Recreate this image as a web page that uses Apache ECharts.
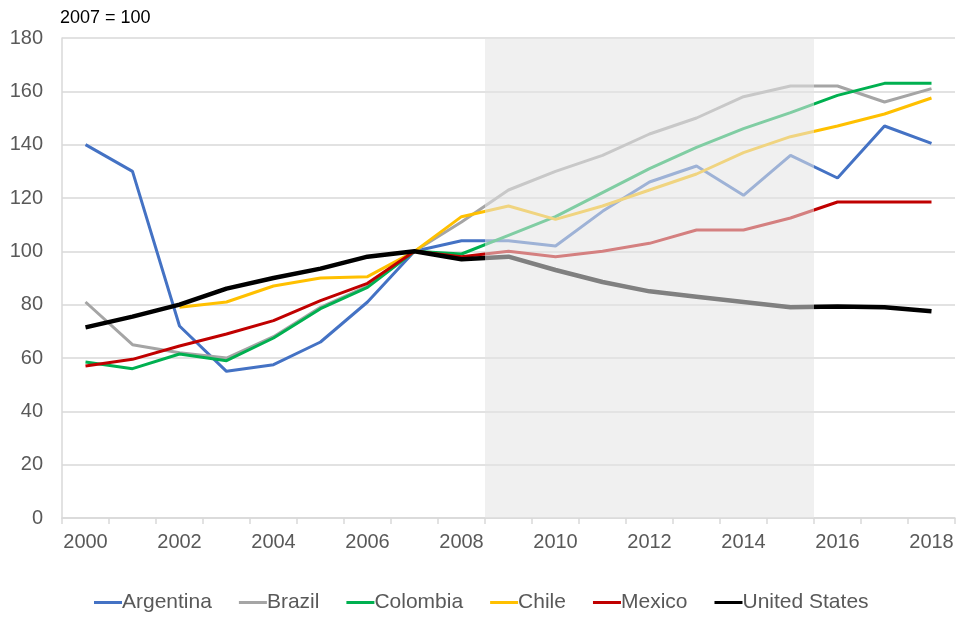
<!DOCTYPE html>
<html>
<head>
<meta charset="utf-8">
<script src="https://cdn.jsdelivr.net/npm/echarts@6/dist/echarts.min.js"></script>
<style>
  html, body { margin: 0; padding: 0; background: #fff; }
  #chart { width: 959px; height: 618px; }
</style>
</head>
<body>
<div id="chart"></div>
<script>
var years = ["2000", "2001", "2002", "2003", "2004", "2005", "2006", "2007", "2008", "2009",
  "2010", "2011", "2012", "2013", "2014", "2015", "2016", "2017", "2018"];

var argentina = [140, 130, 72, 55, 57.5, 66, 81, 100, 104, 104, 102, 115, 126, 132, 121, 136, 127.5, 147, 140.5];
var brazil = [81, 65, 62, 60, 68, 79, 87, 100, 111, 123, 130, 136, 144, 150, 158, 162, 162, 156, 161];
var colombia = [58.5, 56, 61.5, 59, 67.5, 78.5, 86.5, 100, 99, 106, 113, 122, 131, 139, 146, 152, 158.5, 163, 163];
var chile = [null, null, 79, 81, 87, 90, 90.5, 100, 113, 117, 112, 117, 123, 129, 137, 143, 147, 151.5, 157.5];
var mexico = [57, 59.5, 64.5, 69, 74, 81.5, 88, 100, 98, 100, 98, 100, 103, 108, 108, 112.5, 118.5, 118.5, 118.5];
var unitedStates = [71.5, 75.5, 80, 86, 90, 93.5, 98, 100, 97, 98, 93, 88.5, 85, 83, 81, 79, 79.3, 79, 77.5];

// shaded period 2009-2015 (drawn as full-height bars over the lines)
var shade = [null, null, null, null, null, null, null, null, null, 180, 180, 180, 180, 180, 180, 180, null, null, null];

var myChart = echarts.init(document.getElementById("chart"));

function line(name, data, color, width) {
  return {
    name: name,
    type: "line",
    data: data,
    symbol: "none",
    z: 2,
    lineStyle: { color: color, width: width },
    itemStyle: { color: color }
  };
}

var option = {
  animation: false,
  textStyle: { fontFamily: "Liberation Sans, Arial, sans-serif" },
  title: {
    text: "2007 = 100",
    left: 55,
    top: 4,
    textStyle: { fontSize: 18, fontWeight: "normal", color: "#000" }
  },
  grid: { left: 62, right: 4, top: 38, bottom: 100 },
  legend: {
    bottom: 0,
    left: 89,
    data: ["Argentina", "Brazil", "Colombia", "Chile", "Mexico", "United States"],
    icon: "rect",
    itemWidth: 28,
    itemHeight: 3,
    itemGap: 27,
    textStyle: { fontSize: 21, color: "#595959", padding: [0, 0, 0, -5] }
  },
  xAxis: {
    type: "category",
    data: years,
    boundaryGap: true,
    axisLine: { lineStyle: { color: "#d9d9d9", width: 1.5 } },
    axisTick: { show: true, interval: 0, length: 6, lineStyle: { color: "#d9d9d9", width: 1.5 } },
    axisLabel: { interval: 1, fontSize: 20, color: "#595959", margin: 14 }
  },
  yAxis: {
    type: "value",
    min: 0,
    max: 180,
    interval: 20,
    axisLine: { show: true, lineStyle: { color: "#d9d9d9", width: 1.5 } },
    axisTick: { show: false },
    splitLine: { lineStyle: { color: "#d9d9d9", width: 1.5 } },
    axisLabel: { fontSize: 20, color: "#595959", margin: 19 }
  },
  series: [
    line("Argentina", argentina, "#4472c4", 3),
    line("Brazil", brazil, "#a5a5a5", 3),
    line("Colombia", colombia, "#00b050", 3),
    line("Chile", chile, "#ffc000", 3),
    line("Mexico", mexico, "#c00000", 3),
    line("United States", unitedStates, "#000000", 4.5),
    {
      name: "shade",
      type: "bar",
      data: shade,
      barWidth: "100%",
      z: 5,
      silent: true,
      itemStyle: { color: "rgba(228,228,228,0.56)" }
    }
  ]
};

myChart.setOption(option);
</script>
</body>
</html>
